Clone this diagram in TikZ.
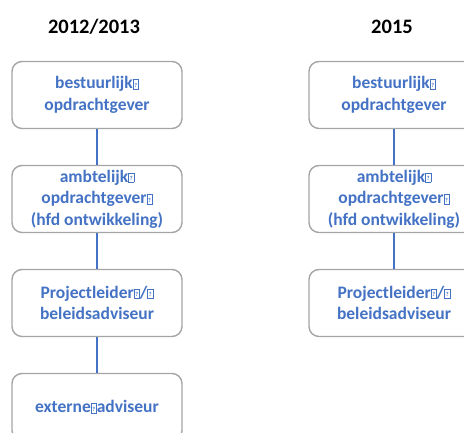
\documentclass[tikz,border=0pt]{standalone}
\usepackage{fontspec}
\setmainfont{Carlito}
\usetikzlibrary{shapes,backgrounds}
\definecolor{roleblue}{HTML}{4472C4}
\definecolor{rolegray}{HTML}{A5A5A5}
% missing glyph box as printed in the reference
\newcommand{\nochar}{{\setlength{\fboxsep}{0pt}\setlength{\fboxrule}{0.5pt}\fbox{\makebox[5pt]{\rule{0pt}{9pt}\raisebox{1.5pt}{\fontsize{6}{6}\selectfont ?}}}}}

\begin{document}
\begin{tikzpicture}[x=1pt,y=-1pt,node distance=104pt,semithick]
        \tikzstyle{role}=[draw=rolegray, line width=1.4pt, rounded corners=10pt, fill=white, text=roleblue,
                          font=\bfseries\fontsize{17.5}{21.5}\selectfont, align=center,
                          minimum width=170pt, minimum height=67pt, inner sep=1pt]
        \tikzstyle{year}=[font=\bfseries\fontsize{20.5}{24}\selectfont]
        \tikzstyle{link}=[draw=roleblue, line width=1.2pt]

        \clip (0,0) rectangle (464,432);

        \node[year]    (Y1)   at (94,27)          {2012/2013};
        \node[year]    (Y2)   at (392,27)         {2015};

        \node[role]    (A1)   at (97,95)          {bestuurlijk\nochar\\opdrachtgever};
        \node[role]    (B1)   [below of=A1]       {ambtelijk\nochar\\opdrachtgever\nochar\\(hfd ontwikkeling)};
        \node[role]    (C1)   [below of=B1]       {Projectleider\nochar/\nochar\\beleidsadviseur};
        \node[role]    (D1)   [below of=C1]       {externe\nochar adviseur};

        \node[role]    (A2)   at (394,95)         {bestuurlijk\nochar\\opdrachtgever};
        \node[role]    (B2)   [below of=A2]       {ambtelijk\nochar\\opdrachtgever\nochar\\(hfd ontwikkeling)};
        \node[role]    (C2)   [below of=B2]       {Projectleider\nochar/\nochar\\beleidsadviseur};

        \draw[link] (A1) -- (B1);
        \draw[link] (B1) -- (C1);
        \draw[link] (C1) -- (D1);
        \draw[link] (A2) -- (B2);
        \draw[link] (B2) -- (C2);
\end{tikzpicture}
\end{document}
